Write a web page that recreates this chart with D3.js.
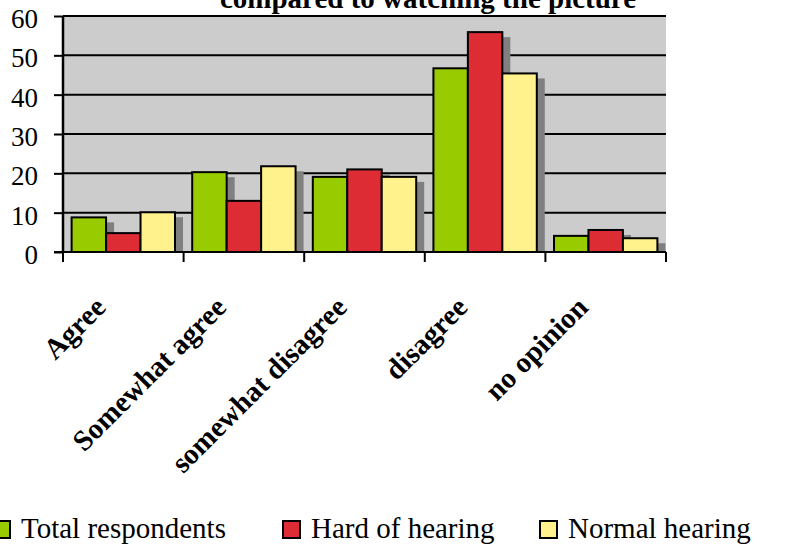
<!DOCTYPE html>
<html><head><meta charset="utf-8">
<script src="https://cdn.jsdelivr.net/npm/d3@7"></script>
<style>body{margin:0;background:#fff;}svg{display:block;} text{font-family:"Liberation Serif","Times New Roman",serif;}</style>
</head><body>
<svg id="chart" width="807" height="549"></svg>
<script>
const categories = ["Agree", "Somewhat agree", "somewhat disagree", "disagree", "no opinion"];
const seriesNames = ["Total respondents", "Hard of hearing", "Normal hearing"];
const totalRespondents = [8.8, 20.3, 19.1, 46.7, 4.1];
const hardOfHearing = [4.8, 13.0, 21.0, 55.9, 5.6];
const normalHearing = [10.1, 21.8, 19.1, 45.4, 3.5];
const colors = ["#99cc00", "#de2c34", "#fff28c"];
const yTicks = [0, 10, 20, 30, 40, 50, 60];
const title = "compared to watching the picture";

const series = [totalRespondents, hardOfHearing, normalHearing];
const svg = d3.select("#chart");
const m = {left: 63, right: 666, top: 16, bottom: 252};
const FONT = '"Liberation Serif", "Times New Roman", serif';

const x = d3.scaleBand().domain(categories).range([m.left, m.right]).paddingInner(0).paddingOuter(0);
const xi = d3.scaleBand().domain(d3.range(3)).range([0, x.bandwidth()]).paddingInner(0).paddingOuter(0.25);
const y = d3.scaleLinear().domain([0, 60]).range([m.bottom, m.top]);

svg.append("rect").attr("x", m.left).attr("y", m.top).attr("width", m.right - m.left).attr("height", m.bottom - m.top).attr("fill", "#cccccc");

svg.append("g").selectAll("line").data(yTicks.filter(d => d > 0)).join("line")
  .attr("x1", m.left).attr("x2", m.right).attr("y1", d => y(d)).attr("y2", d => y(d))
  .attr("stroke", "#000").attr("stroke-width", 2);

svg.append("clipPath").attr("id", "pc").append("rect")
  .attr("x", m.left).attr("y", 0).attr("width", m.right - m.left + 20).attr("height", m.bottom);

const data = [];
categories.forEach((c, i) => series.forEach((s, j) => data.push({c, j, v: s[i]})));

svg.append("g").attr("clip-path", "url(#pc)").selectAll("rect").data(data).join("rect")
  .attr("x", d => x(d.c) + xi(d.j) + 8).attr("y", d => y(d.v) + 5)
  .attr("width", xi.bandwidth()).attr("height", d => m.bottom - y(d.v))
  .attr("fill", "#808080");

svg.append("g").selectAll("rect").data(data).join("rect")
  .attr("x", d => x(d.c) + xi(d.j)).attr("y", d => y(d.v))
  .attr("width", xi.bandwidth()).attr("height", d => m.bottom - y(d.v))
  .attr("fill", d => colors[d.j]).attr("stroke", "#000").attr("stroke-width", 2);

const yAxis = svg.append("g").attr("transform", `translate(${m.left},0)`)
  .call(d3.axisLeft(y).tickValues(yTicks).tickSize(9).tickPadding(16).tickFormat(d3.format("d")));
yAxis.attr("font-family", FONT);
yAxis.select(".domain").attr("stroke", "#000").attr("stroke-width", 2.5).attr("d", `M0,${m.top}V${m.bottom}`);
yAxis.selectAll(".tick line").attr("stroke", "#000").attr("stroke-width", 2);
yAxis.selectAll(".tick text").style("font-family", FONT).style("font-size", "27px").attr("fill", "#000").attr("dy", "0.42em");

const xAxis = svg.append("g").attr("transform", `translate(0,${m.bottom})`);
xAxis.append("line").attr("x1", m.left - 9).attr("x2", m.right).attr("y1", 0).attr("y2", 0).attr("stroke", "#000").attr("stroke-width", 2);
const bounds = categories.map(c => x(c)).concat([m.right]);
xAxis.selectAll("line.t").data(bounds).join("line").attr("class", "t")
  .attr("x1", d => d).attr("x2", d => d).attr("y1", 0).attr("y2", 10).attr("stroke", "#000").attr("stroke-width", 2);
xAxis.selectAll("text").data(categories).join("text")
  .attr("transform", d => `translate(${x(d) + x.bandwidth() / 2 - 16},${57}) rotate(-45)`)
  .attr("text-anchor", "end")
  .style("font-family", FONT).style("font-weight", "bold").style("font-size", "29px")
  .text(d => d);

svg.append("text").attr("x", 428).attr("y", 8).attr("text-anchor", "middle")
  .style("font-family", FONT).style("font-weight", "bold").style("font-size", "29px")
  .text(title);

const legendTextX = [21, 311, 568];
const lg = svg.append("g").selectAll("g").data(seriesNames).join("g")
  .attr("transform", (d, i) => `translate(${legendTextX[i]},521)`);
lg.append("rect").attr("x", -28).attr("y", 0).attr("width", 17).attr("height", 17)
  .attr("fill", (d, i) => colors[i]).attr("stroke", "#000").attr("stroke-width", 2);
lg.append("text").attr("x", 0).attr("y", 17).style("font-family", FONT).style("font-size", "29px").text(d => d);
</script>
</body></html>
